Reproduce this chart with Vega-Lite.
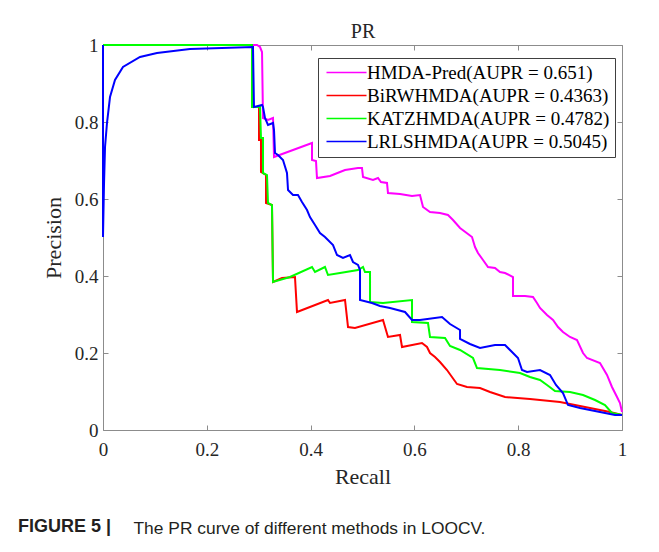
{
  "$schema": "https://vega.github.io/schema/vega-lite/v6.json",
  "width": 519,
  "height": 385,
  "autosize": {"type": "none"},
  "padding": {"left": 103, "top": 45, "right": 37, "bottom": 122},
  "background": "white",
  "title": {
    "text": "FIGURE 5 |",
    "orient": "bottom",
    "anchor": "start",
    "frame": "group",
    "dx": -85,
    "offset": -18,
    "font": "Liberation Sans, Arial, sans-serif",
    "fontSize": 18,
    "fontWeight": "bold",
    "color": "#231f20"
  },
  "data": {
    "values": [
      {"method": "HMDA-Pred(AUPR = 0.651)", "idx": 0, "recall": 0, "precision": 1},
      {"method": "HMDA-Pred(AUPR = 0.651)", "idx": 1, "recall": 0.2967, "precision": 1},
      {"method": "HMDA-Pred(AUPR = 0.651)", "idx": 2, "recall": 0.3025, "precision": 0.9948},
      {"method": "HMDA-Pred(AUPR = 0.651)", "idx": 3, "recall": 0.3064, "precision": 0.9818},
      {"method": "HMDA-Pred(AUPR = 0.651)", "idx": 4, "recall": 0.3083, "precision": 0.8104},
      {"method": "HMDA-Pred(AUPR = 0.651)", "idx": 5, "recall": 0.3179, "precision": 0.8052},
      {"method": "HMDA-Pred(AUPR = 0.651)", "idx": 6, "recall": 0.3276, "precision": 0.8104},
      {"method": "HMDA-Pred(AUPR = 0.651)", "idx": 7, "recall": 0.3295, "precision": 0.7091},
      {"method": "HMDA-Pred(AUPR = 0.651)", "idx": 8, "recall": 0.4027, "precision": 0.7455},
      {"method": "HMDA-Pred(AUPR = 0.651)", "idx": 9, "recall": 0.4027, "precision": 0.7013},
      {"method": "HMDA-Pred(AUPR = 0.651)", "idx": 10, "recall": 0.4104, "precision": 0.6987},
      {"method": "HMDA-Pred(AUPR = 0.651)", "idx": 11, "recall": 0.4123, "precision": 0.6545},
      {"method": "HMDA-Pred(AUPR = 0.651)", "idx": 12, "recall": 0.4374, "precision": 0.6597},
      {"method": "HMDA-Pred(AUPR = 0.651)", "idx": 13, "recall": 0.4566, "precision": 0.6701},
      {"method": "HMDA-Pred(AUPR = 0.651)", "idx": 14, "recall": 0.4663, "precision": 0.6753},
      {"method": "HMDA-Pred(AUPR = 0.651)", "idx": 15, "recall": 0.4913, "precision": 0.6805},
      {"method": "HMDA-Pred(AUPR = 0.651)", "idx": 16, "recall": 0.499, "precision": 0.6805},
      {"method": "HMDA-Pred(AUPR = 0.651)", "idx": 17, "recall": 0.501, "precision": 0.6571},
      {"method": "HMDA-Pred(AUPR = 0.651)", "idx": 18, "recall": 0.5202, "precision": 0.6494},
      {"method": "HMDA-Pred(AUPR = 0.651)", "idx": 19, "recall": 0.5299, "precision": 0.6545},
      {"method": "HMDA-Pred(AUPR = 0.651)", "idx": 20, "recall": 0.5356, "precision": 0.6442},
      {"method": "HMDA-Pred(AUPR = 0.651)", "idx": 21, "recall": 0.5472, "precision": 0.6416},
      {"method": "HMDA-Pred(AUPR = 0.651)", "idx": 22, "recall": 0.5491, "precision": 0.6156},
      {"method": "HMDA-Pred(AUPR = 0.651)", "idx": 23, "recall": 0.5723, "precision": 0.613},
      {"method": "HMDA-Pred(AUPR = 0.651)", "idx": 24, "recall": 0.5954, "precision": 0.6078},
      {"method": "HMDA-Pred(AUPR = 0.651)", "idx": 25, "recall": 0.6108, "precision": 0.6104},
      {"method": "HMDA-Pred(AUPR = 0.651)", "idx": 26, "recall": 0.6166, "precision": 0.5792},
      {"method": "HMDA-Pred(AUPR = 0.651)", "idx": 27, "recall": 0.6301, "precision": 0.5662},
      {"method": "HMDA-Pred(AUPR = 0.651)", "idx": 28, "recall": 0.6493, "precision": 0.5636},
      {"method": "HMDA-Pred(AUPR = 0.651)", "idx": 29, "recall": 0.6647, "precision": 0.5584},
      {"method": "HMDA-Pred(AUPR = 0.651)", "idx": 30, "recall": 0.6744, "precision": 0.5455},
      {"method": "HMDA-Pred(AUPR = 0.651)", "idx": 31, "recall": 0.6879, "precision": 0.5247},
      {"method": "HMDA-Pred(AUPR = 0.651)", "idx": 32, "recall": 0.7033, "precision": 0.5091},
      {"method": "HMDA-Pred(AUPR = 0.651)", "idx": 33, "recall": 0.711, "precision": 0.5013},
      {"method": "HMDA-Pred(AUPR = 0.651)", "idx": 34, "recall": 0.7168, "precision": 0.4753},
      {"method": "HMDA-Pred(AUPR = 0.651)", "idx": 35, "recall": 0.7225, "precision": 0.4597},
      {"method": "HMDA-Pred(AUPR = 0.651)", "idx": 36, "recall": 0.7322, "precision": 0.4416},
      {"method": "HMDA-Pred(AUPR = 0.651)", "idx": 37, "recall": 0.7418, "precision": 0.4234},
      {"method": "HMDA-Pred(AUPR = 0.651)", "idx": 38, "recall": 0.7553, "precision": 0.4208},
      {"method": "HMDA-Pred(AUPR = 0.651)", "idx": 39, "recall": 0.7649, "precision": 0.4104},
      {"method": "HMDA-Pred(AUPR = 0.651)", "idx": 40, "recall": 0.7746, "precision": 0.4078},
      {"method": "HMDA-Pred(AUPR = 0.651)", "idx": 41, "recall": 0.79, "precision": 0.3974},
      {"method": "HMDA-Pred(AUPR = 0.651)", "idx": 42, "recall": 0.79, "precision": 0.3481},
      {"method": "HMDA-Pred(AUPR = 0.651)", "idx": 43, "recall": 0.8131, "precision": 0.3481},
      {"method": "HMDA-Pred(AUPR = 0.651)", "idx": 44, "recall": 0.8285, "precision": 0.3455},
      {"method": "HMDA-Pred(AUPR = 0.651)", "idx": 45, "recall": 0.8362, "precision": 0.3299},
      {"method": "HMDA-Pred(AUPR = 0.651)", "idx": 46, "recall": 0.842, "precision": 0.3169},
      {"method": "HMDA-Pred(AUPR = 0.651)", "idx": 47, "recall": 0.8555, "precision": 0.2987},
      {"method": "HMDA-Pred(AUPR = 0.651)", "idx": 48, "recall": 0.8671, "precision": 0.2857},
      {"method": "HMDA-Pred(AUPR = 0.651)", "idx": 49, "recall": 0.8767, "precision": 0.2675},
      {"method": "HMDA-Pred(AUPR = 0.651)", "idx": 50, "recall": 0.8863, "precision": 0.2545},
      {"method": "HMDA-Pred(AUPR = 0.651)", "idx": 51, "recall": 0.8998, "precision": 0.2416},
      {"method": "HMDA-Pred(AUPR = 0.651)", "idx": 52, "recall": 0.9133, "precision": 0.2338},
      {"method": "HMDA-Pred(AUPR = 0.651)", "idx": 53, "recall": 0.9249, "precision": 0.2},
      {"method": "HMDA-Pred(AUPR = 0.651)", "idx": 54, "recall": 0.9326, "precision": 0.187},
      {"method": "HMDA-Pred(AUPR = 0.651)", "idx": 55, "recall": 0.9576, "precision": 0.174},
      {"method": "HMDA-Pred(AUPR = 0.651)", "idx": 56, "recall": 0.9711, "precision": 0.1429},
      {"method": "HMDA-Pred(AUPR = 0.651)", "idx": 57, "recall": 0.9807, "precision": 0.1117},
      {"method": "HMDA-Pred(AUPR = 0.651)", "idx": 58, "recall": 0.9904, "precision": 0.0857},
      {"method": "HMDA-Pred(AUPR = 0.651)", "idx": 59, "recall": 0.9961, "precision": 0.0701},
      {"method": "HMDA-Pred(AUPR = 0.651)", "idx": 60, "recall": 1, "precision": 0.0468},

      {"method": "BiRWHMDA(AUPR = 0.4363)", "idx": 0, "recall": 0, "precision": 1},
      {"method": "BiRWHMDA(AUPR = 0.4363)", "idx": 1, "recall": 0.2871, "precision": 1},
      {"method": "BiRWHMDA(AUPR = 0.4363)", "idx": 2, "recall": 0.2871, "precision": 0.839},
      {"method": "BiRWHMDA(AUPR = 0.4363)", "idx": 3, "recall": 0.3006, "precision": 0.839},
      {"method": "BiRWHMDA(AUPR = 0.4363)", "idx": 4, "recall": 0.3006, "precision": 0.7532},
      {"method": "BiRWHMDA(AUPR = 0.4363)", "idx": 5, "recall": 0.3044, "precision": 0.7532},
      {"method": "BiRWHMDA(AUPR = 0.4363)", "idx": 6, "recall": 0.3044, "precision": 0.6701},
      {"method": "BiRWHMDA(AUPR = 0.4363)", "idx": 7, "recall": 0.3141, "precision": 0.6623},
      {"method": "BiRWHMDA(AUPR = 0.4363)", "idx": 8, "recall": 0.3141, "precision": 0.5896},
      {"method": "BiRWHMDA(AUPR = 0.4363)", "idx": 9, "recall": 0.3256, "precision": 0.5844},
      {"method": "BiRWHMDA(AUPR = 0.4363)", "idx": 10, "recall": 0.3276, "precision": 0.3844},
      {"method": "BiRWHMDA(AUPR = 0.4363)", "idx": 11, "recall": 0.3449, "precision": 0.3948},
      {"method": "BiRWHMDA(AUPR = 0.4363)", "idx": 12, "recall": 0.3699, "precision": 0.3974},
      {"method": "BiRWHMDA(AUPR = 0.4363)", "idx": 13, "recall": 0.3738, "precision": 0.3065},
      {"method": "BiRWHMDA(AUPR = 0.4363)", "idx": 14, "recall": 0.4335, "precision": 0.3377},
      {"method": "BiRWHMDA(AUPR = 0.4363)", "idx": 15, "recall": 0.4374, "precision": 0.3299},
      {"method": "BiRWHMDA(AUPR = 0.4363)", "idx": 16, "recall": 0.4663, "precision": 0.3377},
      {"method": "BiRWHMDA(AUPR = 0.4363)", "idx": 17, "recall": 0.4721, "precision": 0.2675},
      {"method": "BiRWHMDA(AUPR = 0.4363)", "idx": 18, "recall": 0.4855, "precision": 0.2649},
      {"method": "BiRWHMDA(AUPR = 0.4363)", "idx": 19, "recall": 0.5395, "precision": 0.2857},
      {"method": "BiRWHMDA(AUPR = 0.4363)", "idx": 20, "recall": 0.5491, "precision": 0.2416},
      {"method": "BiRWHMDA(AUPR = 0.4363)", "idx": 21, "recall": 0.5723, "precision": 0.2468},
      {"method": "BiRWHMDA(AUPR = 0.4363)", "idx": 22, "recall": 0.5761, "precision": 0.2156},
      {"method": "BiRWHMDA(AUPR = 0.4363)", "idx": 23, "recall": 0.6146, "precision": 0.226},
      {"method": "BiRWHMDA(AUPR = 0.4363)", "idx": 24, "recall": 0.6243, "precision": 0.2156},
      {"method": "BiRWHMDA(AUPR = 0.4363)", "idx": 25, "recall": 0.6301, "precision": 0.2},
      {"method": "BiRWHMDA(AUPR = 0.4363)", "idx": 26, "recall": 0.6397, "precision": 0.1896},
      {"method": "BiRWHMDA(AUPR = 0.4363)", "idx": 27, "recall": 0.6493, "precision": 0.1766},
      {"method": "BiRWHMDA(AUPR = 0.4363)", "idx": 28, "recall": 0.6628, "precision": 0.1558},
      {"method": "BiRWHMDA(AUPR = 0.4363)", "idx": 29, "recall": 0.6724, "precision": 0.1377},
      {"method": "BiRWHMDA(AUPR = 0.4363)", "idx": 30, "recall": 0.6821, "precision": 0.1195},
      {"method": "BiRWHMDA(AUPR = 0.4363)", "idx": 31, "recall": 0.7013, "precision": 0.1117},
      {"method": "BiRWHMDA(AUPR = 0.4363)", "idx": 32, "recall": 0.7264, "precision": 0.1091},
      {"method": "BiRWHMDA(AUPR = 0.4363)", "idx": 33, "recall": 0.7457, "precision": 0.0987},
      {"method": "BiRWHMDA(AUPR = 0.4363)", "idx": 34, "recall": 0.7746, "precision": 0.0857},
      {"method": "BiRWHMDA(AUPR = 0.4363)", "idx": 35, "recall": 0.8227, "precision": 0.0805},
      {"method": "BiRWHMDA(AUPR = 0.4363)", "idx": 36, "recall": 0.8805, "precision": 0.0727},
      {"method": "BiRWHMDA(AUPR = 0.4363)", "idx": 37, "recall": 0.9094, "precision": 0.0649},
      {"method": "BiRWHMDA(AUPR = 0.4363)", "idx": 38, "recall": 0.9383, "precision": 0.0571},
      {"method": "BiRWHMDA(AUPR = 0.4363)", "idx": 39, "recall": 0.9769, "precision": 0.0468},
      {"method": "BiRWHMDA(AUPR = 0.4363)", "idx": 40, "recall": 1, "precision": 0.039},

      {"method": "KATZHMDA(AUPR = 0.4782)", "idx": 0, "recall": 0, "precision": 1},
      {"method": "KATZHMDA(AUPR = 0.4782)", "idx": 1, "recall": 0.2871, "precision": 1},
      {"method": "KATZHMDA(AUPR = 0.4782)", "idx": 2, "recall": 0.2871, "precision": 0.839},
      {"method": "KATZHMDA(AUPR = 0.4782)", "idx": 3, "recall": 0.3025, "precision": 0.839},
      {"method": "KATZHMDA(AUPR = 0.4782)", "idx": 4, "recall": 0.3044, "precision": 0.7584},
      {"method": "KATZHMDA(AUPR = 0.4782)", "idx": 5, "recall": 0.3083, "precision": 0.7584},
      {"method": "KATZHMDA(AUPR = 0.4782)", "idx": 6, "recall": 0.3083, "precision": 0.6675},
      {"method": "KATZHMDA(AUPR = 0.4782)", "idx": 7, "recall": 0.316, "precision": 0.6623},
      {"method": "KATZHMDA(AUPR = 0.4782)", "idx": 8, "recall": 0.3179, "precision": 0.5896},
      {"method": "KATZHMDA(AUPR = 0.4782)", "idx": 9, "recall": 0.3256, "precision": 0.5844},
      {"method": "KATZHMDA(AUPR = 0.4782)", "idx": 10, "recall": 0.3276, "precision": 0.3844},
      {"method": "KATZHMDA(AUPR = 0.4782)", "idx": 11, "recall": 0.3603, "precision": 0.3974},
      {"method": "KATZHMDA(AUPR = 0.4782)", "idx": 12, "recall": 0.4027, "precision": 0.4234},
      {"method": "KATZHMDA(AUPR = 0.4782)", "idx": 13, "recall": 0.4085, "precision": 0.4104},
      {"method": "KATZHMDA(AUPR = 0.4782)", "idx": 14, "recall": 0.4277, "precision": 0.4234},
      {"method": "KATZHMDA(AUPR = 0.4782)", "idx": 15, "recall": 0.4335, "precision": 0.4026},
      {"method": "KATZHMDA(AUPR = 0.4782)", "idx": 16, "recall": 0.4566, "precision": 0.4078},
      {"method": "KATZHMDA(AUPR = 0.4782)", "idx": 17, "recall": 0.4913, "precision": 0.4156},
      {"method": "KATZHMDA(AUPR = 0.4782)", "idx": 18, "recall": 0.501, "precision": 0.4234},
      {"method": "KATZHMDA(AUPR = 0.4782)", "idx": 19, "recall": 0.5048, "precision": 0.4104},
      {"method": "KATZHMDA(AUPR = 0.4782)", "idx": 20, "recall": 0.5145, "precision": 0.4104},
      {"method": "KATZHMDA(AUPR = 0.4782)", "idx": 21, "recall": 0.5145, "precision": 0.3325},
      {"method": "KATZHMDA(AUPR = 0.4782)", "idx": 22, "recall": 0.5395, "precision": 0.3299},
      {"method": "KATZHMDA(AUPR = 0.4782)", "idx": 23, "recall": 0.5954, "precision": 0.3377},
      {"method": "KATZHMDA(AUPR = 0.4782)", "idx": 24, "recall": 0.5954, "precision": 0.2805},
      {"method": "KATZHMDA(AUPR = 0.4782)", "idx": 25, "recall": 0.6262, "precision": 0.2779},
      {"method": "KATZHMDA(AUPR = 0.4782)", "idx": 26, "recall": 0.6301, "precision": 0.2416},
      {"method": "KATZHMDA(AUPR = 0.4782)", "idx": 27, "recall": 0.659, "precision": 0.239},
      {"method": "KATZHMDA(AUPR = 0.4782)", "idx": 28, "recall": 0.6686, "precision": 0.2182},
      {"method": "KATZHMDA(AUPR = 0.4782)", "idx": 29, "recall": 0.6879, "precision": 0.2078},
      {"method": "KATZHMDA(AUPR = 0.4782)", "idx": 30, "recall": 0.7129, "precision": 0.187},
      {"method": "KATZHMDA(AUPR = 0.4782)", "idx": 31, "recall": 0.7206, "precision": 0.161},
      {"method": "KATZHMDA(AUPR = 0.4782)", "idx": 32, "recall": 0.7649, "precision": 0.1558},
      {"method": "KATZHMDA(AUPR = 0.4782)", "idx": 33, "recall": 0.8035, "precision": 0.1481},
      {"method": "KATZHMDA(AUPR = 0.4782)", "idx": 34, "recall": 0.8227, "precision": 0.1377},
      {"method": "KATZHMDA(AUPR = 0.4782)", "idx": 35, "recall": 0.842, "precision": 0.1299},
      {"method": "KATZHMDA(AUPR = 0.4782)", "idx": 36, "recall": 0.8555, "precision": 0.1169},
      {"method": "KATZHMDA(AUPR = 0.4782)", "idx": 37, "recall": 0.8709, "precision": 0.1013},
      {"method": "KATZHMDA(AUPR = 0.4782)", "idx": 38, "recall": 0.8998, "precision": 0.0987},
      {"method": "KATZHMDA(AUPR = 0.4782)", "idx": 39, "recall": 0.9249, "precision": 0.0909},
      {"method": "KATZHMDA(AUPR = 0.4782)", "idx": 40, "recall": 0.948, "precision": 0.0779},
      {"method": "KATZHMDA(AUPR = 0.4782)", "idx": 41, "recall": 0.9672, "precision": 0.0649},
      {"method": "KATZHMDA(AUPR = 0.4782)", "idx": 42, "recall": 0.9807, "precision": 0.0442},
      {"method": "KATZHMDA(AUPR = 0.4782)", "idx": 43, "recall": 1, "precision": 0.039},

      {"method": "LRLSHMDA(AUPR = 0.5045)", "idx": 0, "recall": 0, "precision": 1},
      {"method": "LRLSHMDA(AUPR = 0.5045)", "idx": 1, "recall": 0, "precision": 0.5013},
      {"method": "LRLSHMDA(AUPR = 0.5045)", "idx": 2, "recall": 0.0019, "precision": 0.6364},
      {"method": "LRLSHMDA(AUPR = 0.5045)", "idx": 3, "recall": 0.0039, "precision": 0.7351},
      {"method": "LRLSHMDA(AUPR = 0.5045)", "idx": 4, "recall": 0.0077, "precision": 0.7974},
      {"method": "LRLSHMDA(AUPR = 0.5045)", "idx": 5, "recall": 0.0135, "precision": 0.8649},
      {"method": "LRLSHMDA(AUPR = 0.5045)", "idx": 6, "recall": 0.0231, "precision": 0.9091},
      {"method": "LRLSHMDA(AUPR = 0.5045)", "idx": 7, "recall": 0.0385, "precision": 0.9429},
      {"method": "LRLSHMDA(AUPR = 0.5045)", "idx": 8, "recall": 0.0713, "precision": 0.9688},
      {"method": "LRLSHMDA(AUPR = 0.5045)", "idx": 9, "recall": 0.104, "precision": 0.9792},
      {"method": "LRLSHMDA(AUPR = 0.5045)", "idx": 10, "recall": 0.1676, "precision": 0.9896},
      {"method": "LRLSHMDA(AUPR = 0.5045)", "idx": 11, "recall": 0.289, "precision": 0.9948},
      {"method": "LRLSHMDA(AUPR = 0.5045)", "idx": 12, "recall": 0.2909, "precision": 0.839},
      {"method": "LRLSHMDA(AUPR = 0.5045)", "idx": 13, "recall": 0.3064, "precision": 0.8442},
      {"method": "LRLSHMDA(AUPR = 0.5045)", "idx": 14, "recall": 0.3083, "precision": 0.839},
      {"method": "LRLSHMDA(AUPR = 0.5045)", "idx": 15, "recall": 0.3121, "precision": 0.8104},
      {"method": "LRLSHMDA(AUPR = 0.5045)", "idx": 16, "recall": 0.3179, "precision": 0.7922},
      {"method": "LRLSHMDA(AUPR = 0.5045)", "idx": 17, "recall": 0.3276, "precision": 0.7974},
      {"method": "LRLSHMDA(AUPR = 0.5045)", "idx": 18, "recall": 0.3295, "precision": 0.7792},
      {"method": "LRLSHMDA(AUPR = 0.5045)", "idx": 19, "recall": 0.3314, "precision": 0.7195},
      {"method": "LRLSHMDA(AUPR = 0.5045)", "idx": 20, "recall": 0.3372, "precision": 0.7143},
      {"method": "LRLSHMDA(AUPR = 0.5045)", "idx": 21, "recall": 0.3468, "precision": 0.7013},
      {"method": "LRLSHMDA(AUPR = 0.5045)", "idx": 22, "recall": 0.3545, "precision": 0.6675},
      {"method": "LRLSHMDA(AUPR = 0.5045)", "idx": 23, "recall": 0.3565, "precision": 0.6234},
      {"method": "LRLSHMDA(AUPR = 0.5045)", "idx": 24, "recall": 0.3661, "precision": 0.6104},
      {"method": "LRLSHMDA(AUPR = 0.5045)", "idx": 25, "recall": 0.3757, "precision": 0.6104},
      {"method": "LRLSHMDA(AUPR = 0.5045)", "idx": 26, "recall": 0.3834, "precision": 0.5922},
      {"method": "LRLSHMDA(AUPR = 0.5045)", "idx": 27, "recall": 0.3931, "precision": 0.5714},
      {"method": "LRLSHMDA(AUPR = 0.5045)", "idx": 28, "recall": 0.3988, "precision": 0.5532},
      {"method": "LRLSHMDA(AUPR = 0.5045)", "idx": 29, "recall": 0.4085, "precision": 0.5325},
      {"method": "LRLSHMDA(AUPR = 0.5045)", "idx": 30, "recall": 0.4181, "precision": 0.5117},
      {"method": "LRLSHMDA(AUPR = 0.5045)", "idx": 31, "recall": 0.4277, "precision": 0.5013},
      {"method": "LRLSHMDA(AUPR = 0.5045)", "idx": 32, "recall": 0.4432, "precision": 0.4805},
      {"method": "LRLSHMDA(AUPR = 0.5045)", "idx": 33, "recall": 0.4509, "precision": 0.4545},
      {"method": "LRLSHMDA(AUPR = 0.5045)", "idx": 34, "recall": 0.4624, "precision": 0.4468},
      {"method": "LRLSHMDA(AUPR = 0.5045)", "idx": 35, "recall": 0.4759, "precision": 0.4545},
      {"method": "LRLSHMDA(AUPR = 0.5045)", "idx": 36, "recall": 0.4817, "precision": 0.4364},
      {"method": "LRLSHMDA(AUPR = 0.5045)", "idx": 37, "recall": 0.4913, "precision": 0.4286},
      {"method": "LRLSHMDA(AUPR = 0.5045)", "idx": 38, "recall": 0.4952, "precision": 0.4156},
      {"method": "LRLSHMDA(AUPR = 0.5045)", "idx": 39, "recall": 0.4952, "precision": 0.3377},
      {"method": "LRLSHMDA(AUPR = 0.5045)", "idx": 40, "recall": 0.5183, "precision": 0.3299},
      {"method": "LRLSHMDA(AUPR = 0.5045)", "idx": 41, "recall": 0.5337, "precision": 0.3221},
      {"method": "LRLSHMDA(AUPR = 0.5045)", "idx": 42, "recall": 0.553, "precision": 0.3169},
      {"method": "LRLSHMDA(AUPR = 0.5045)", "idx": 43, "recall": 0.5819, "precision": 0.3065},
      {"method": "LRLSHMDA(AUPR = 0.5045)", "idx": 44, "recall": 0.5954, "precision": 0.2857},
      {"method": "LRLSHMDA(AUPR = 0.5045)", "idx": 45, "recall": 0.6108, "precision": 0.2857},
      {"method": "LRLSHMDA(AUPR = 0.5045)", "idx": 46, "recall": 0.6532, "precision": 0.2935},
      {"method": "LRLSHMDA(AUPR = 0.5045)", "idx": 47, "recall": 0.6686, "precision": 0.2753},
      {"method": "LRLSHMDA(AUPR = 0.5045)", "idx": 48, "recall": 0.6879, "precision": 0.2597},
      {"method": "LRLSHMDA(AUPR = 0.5045)", "idx": 49, "recall": 0.6879, "precision": 0.2364},
      {"method": "LRLSHMDA(AUPR = 0.5045)", "idx": 50, "recall": 0.7071, "precision": 0.2234},
      {"method": "LRLSHMDA(AUPR = 0.5045)", "idx": 51, "recall": 0.7264, "precision": 0.213},
      {"method": "LRLSHMDA(AUPR = 0.5045)", "idx": 52, "recall": 0.7553, "precision": 0.2208},
      {"method": "LRLSHMDA(AUPR = 0.5045)", "idx": 53, "recall": 0.7746, "precision": 0.2208},
      {"method": "LRLSHMDA(AUPR = 0.5045)", "idx": 54, "recall": 0.7881, "precision": 0.2026},
      {"method": "LRLSHMDA(AUPR = 0.5045)", "idx": 55, "recall": 0.7996, "precision": 0.187},
      {"method": "LRLSHMDA(AUPR = 0.5045)", "idx": 56, "recall": 0.8073, "precision": 0.1558},
      {"method": "LRLSHMDA(AUPR = 0.5045)", "idx": 57, "recall": 0.817, "precision": 0.1506},
      {"method": "LRLSHMDA(AUPR = 0.5045)", "idx": 58, "recall": 0.842, "precision": 0.1558},
      {"method": "LRLSHMDA(AUPR = 0.5045)", "idx": 59, "recall": 0.8613, "precision": 0.1429},
      {"method": "LRLSHMDA(AUPR = 0.5045)", "idx": 60, "recall": 0.8728, "precision": 0.1169},
      {"method": "LRLSHMDA(AUPR = 0.5045)", "idx": 61, "recall": 0.8863, "precision": 0.0961},
      {"method": "LRLSHMDA(AUPR = 0.5045)", "idx": 62, "recall": 0.896, "precision": 0.0649},
      {"method": "LRLSHMDA(AUPR = 0.5045)", "idx": 63, "recall": 0.9191, "precision": 0.0571},
      {"method": "LRLSHMDA(AUPR = 0.5045)", "idx": 64, "recall": 0.9576, "precision": 0.0468},
      {"method": "LRLSHMDA(AUPR = 0.5045)", "idx": 65, "recall": 0.9865, "precision": 0.039},
      {"method": "LRLSHMDA(AUPR = 0.5045)", "idx": 66, "recall": 1, "precision": 0.039}
    ]
  },
  "layer": [
    {
      "mark": {"type": "line", "strokeWidth": 2, "interpolate": "linear"},
      "encoding": {
        "x": {
          "field": "recall", "type": "quantitative",
          "scale": {"domain": [0, 1], "nice": false},
          "axis": {"orient": "bottom", "values": [0, 0.2, 0.4, 0.6, 0.8, 1], "format": "~g", "labelPadding": 15, "title": "Recall", "titlePadding": 7}
        },
        "y": {
          "field": "precision", "type": "quantitative",
          "scale": {"domain": [0, 1], "nice": false},
          "axis": {"orient": "left", "values": [0, 0.2, 0.4, 0.6, 0.8, 1], "format": "~g", "labelPadding": 10, "title": "Precision", "titlePadding": 9}
        },
        "color": {
          "field": "method", "type": "nominal",
          "scale": {
            "domain": ["HMDA-Pred(AUPR = 0.651)", "BiRWHMDA(AUPR = 0.4363)", "KATZHMDA(AUPR = 0.4782)", "LRLSHMDA(AUPR = 0.5045)"],
            "range": ["#ff00ff", "#ff0000", "#00ff00", "#0000ff"]
          },
          "legend": {"orient": "none", "legendX": 215, "legendY": 13, "title": null}
        },
        "order": {"field": "idx", "type": "quantitative"}
      }
    },
    {
      "mark": {"type": "point", "opacity": 0},
      "encoding": {
        "x": {
          "field": "recall", "type": "quantitative",
          "scale": {"domain": [0, 1], "nice": false},
          "axis": {"orient": "top", "values": [0, 0.2, 0.4, 0.6, 0.8, 1], "labels": false, "title": "PR", "titlePadding": 3, "titleFontSize": 20}
        },
        "y": {
          "field": "precision", "type": "quantitative",
          "scale": {"domain": [0, 1], "nice": false},
          "axis": {
            "orient": "right", "values": [0, 0.2, 0.4, 0.6, 0.8, 1], "labels": false,
            "title": "The PR curve of different methods in LOOCV.",
            "titleAngle": 0, "titleX": -489, "titleY": 483, "titleAlign": "left", "titleBaseline": "middle",
            "titleFont": "Liberation Sans, Arial, sans-serif",
            "titleFontSize": 17.4, "titleFontWeight": "normal", "titleColor": "#231f20"
          }
        }
      }
    }
  ],
  "resolve": {"axis": {"x": "independent", "y": "independent"}},
  "config": {
    "font": "Liberation Serif, Times New Roman, DejaVu Serif, serif",
    "view": {"stroke": "#8c8c8c", "strokeWidth": 1},
    "axis": {
      "grid": false, "domain": false, "labelFlush": false,
      "tickColor": "#8c8c8c", "tickSize": -5, "tickWidth": 1,
      "labelFont": "Liberation Serif, Times New Roman, DejaVu Serif, serif", "labelFontSize": 19, "labelColor": "#262626",
      "titleFont": "Liberation Serif, Times New Roman, DejaVu Serif, serif", "titleFontSize": 22, "titleFontWeight": "normal", "titleColor": "#262626"
    },
    "legend": {
      "labelFont": "Liberation Serif, Times New Roman, DejaVu Serif, serif", "labelFontSize": 19, "labelColor": "#000000", "labelLimit": 400,
      "symbolType": "M-4,0H4", "symbolSize": 100, "symbolStrokeWidth": 1.5, "symbolOffset": 14,
      "strokeColor": "#404040", "fillColor": "white", "padding": 5, "rowPadding": 3, "labelOffset": 11
    }
  }
}
